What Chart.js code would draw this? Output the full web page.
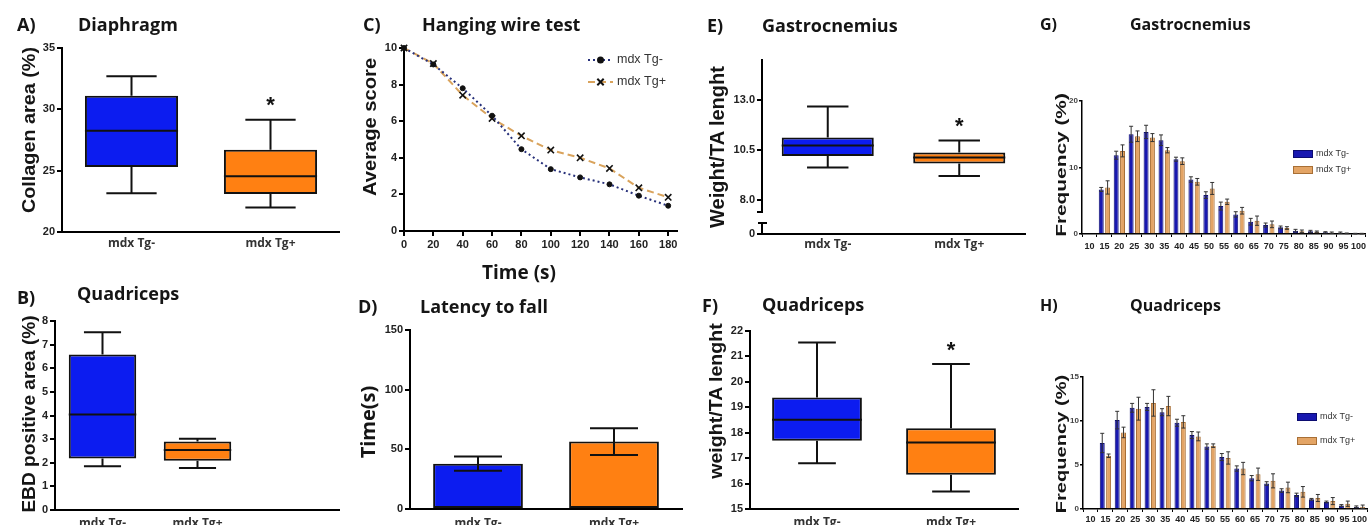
<!DOCTYPE html>
<html>
<head>
<meta charset="utf-8">
<title>mdx Tg- / mdx Tg+</title>
<script src="https://cdn.jsdelivr.net/npm/chart.js@4.4.1/dist/chart.umd.min.js"></script>
<style>
  html, body { margin: 0; padding: 0; background: #fff; }
  #page { position: relative; width: 1370px; height: 525px; overflow: hidden; }
  canvas { position: absolute; }
  .tag, .title { position: absolute; font-family: 'Open Sans', sans-serif; font-weight: bold; font-size: 18px; color: #151515; white-space: nowrap; line-height: 1; transform: translateY(-50%); }
  .small { font-size: 16px; }
  .axis-title { position: absolute; font-family: 'Liberation Sans', Arial, sans-serif; font-weight: bold; color: #151515; white-space: nowrap; line-height: 1; }
  .x-title { position: absolute; font-family: 'Open Sans', sans-serif; font-weight: bold; color: #151515; white-space: nowrap; line-height: 1; transform: translate(-50%, -50%); }
</style>
</head>
<body>
<div id="page">
  <canvas id="chartA" width="340" height="230" style="left:0px;top:30px"></canvas>
  <canvas id="chartB" width="340" height="225" style="left:0px;top:300px"></canvas>
  <canvas id="chartC" width="350" height="255" style="left:340px;top:30px"></canvas>
  <canvas id="chartD" width="350" height="225" style="left:340px;top:300px"></canvas>
  <canvas id="chartE" width="340" height="220" style="left:690px;top:40px"></canvas>
  <canvas id="chartF" width="340" height="225" style="left:690px;top:300px"></canvas>
  <canvas id="chartG" width="340" height="180" style="left:1030px;top:80px"></canvas>
  <canvas id="chartH" width="340" height="165" style="left:1030px;top:360px"></canvas>

  <!-- panel letters and titles -->
  <div class="tag" style="left:17px;top:24px">A)</div>
  <div class="title" style="left:78px;top:24px">Diaphragm</div>
  <div class="tag" style="left:17px;top:297px">B)</div>
  <div class="title" style="left:77px;top:293px">Quadriceps</div>
  <div class="tag" style="left:363px;top:24px">C)</div>
  <div class="title" style="left:422px;top:24px">Hanging wire test</div>
  <div class="tag" style="left:358px;top:306px">D)</div>
  <div class="title" style="left:420px;top:306px">Latency to fall</div>
  <div class="tag" style="left:707px;top:25px">E)</div>
  <div class="title" style="left:762px;top:25px">Gastrocnemius</div>
  <div class="tag" style="left:702px;top:305px">F)</div>
  <div class="title" style="left:762px;top:304px">Quadriceps</div>
  <div class="tag small" style="left:1040px;top:24px">G)</div>
  <div class="title small" style="left:1130px;top:24px">Gastrocnemius</div>
  <div class="tag small" style="left:1040px;top:305px">H)</div>
  <div class="title small" style="left:1130px;top:305px">Quadriceps</div>

  <!-- axis titles (rotated ones are stretched a bit like the original figure) -->
  <div class="axis-title" style="left:29px;top:130px;font-size:18px;transform:translate(-50%,-50%) rotate(-90deg) scaleX(1.1)">Collagen area (%)</div>
  <div class="axis-title" style="left:29px;top:414px;font-size:18px;transform:translate(-50%,-50%) rotate(-90deg) scaleX(1.06)">EBD positive area (%)</div>
  <div class="axis-title" style="left:370px;top:127px;font-size:18px;transform:translate(-50%,-50%) rotate(-90deg) scaleX(1.12)">Average score</div>
  <div class="x-title" style="left:519px;top:272px;font-size:19px">Time (s)</div>
  <div class="x-title" style="left:368px;top:422px;font-size:20px;transform:translate(-50%,-50%) rotate(-90deg)">Time(s)</div>
  <div class="axis-title" style="left:717px;top:147px;font-size:20px;transform:translate(-50%,-50%) rotate(-90deg)">Weight/TA lenght</div>
  <div class="axis-title" style="left:715px;top:401px;font-size:19px;transform:translate(-50%,-50%) rotate(-90deg) scaleX(1.03)">weight/TA lenght</div>
  <div class="axis-title" style="left:1060px;top:165px;font-size:15px;transform:translate(-50%,-50%) rotate(-90deg) scaleX(1.39)">Frequency (%)</div>
  <div class="axis-title" style="left:1060px;top:444px;font-size:15px;transform:translate(-50%,-50%) rotate(-90deg) scaleX(1.34)">Frequency (%)</div>
</div>

<script>
'use strict';

// the two genotypes compared in every panel
let groups = ['mdx Tg-', 'mdx Tg+'];

// A) Diaphragm - collagen area (%), box and whiskers
let diaphragmLow = [23.15, 22.0];
let diaphragmQ1 = [25.3, 23.1];
let diaphragmMedian = [28.25, 24.55];
let diaphragmQ3 = [31.1, 26.7];
let diaphragmHigh = [32.7, 29.15];
let diaphragmMarks = ['', '*'];

// B) Quadriceps - EBD positive area (%)
let ebdLow = [1.85, 1.78];
let ebdQ1 = [2.18, 2.08];
let ebdMedian = [4.04, 2.54];
let ebdQ3 = [6.58, 2.9];
let ebdHigh = [7.52, 3.02];

// C) Hanging wire test - average score over time
let wireTimes = [0, 20, 40, 60, 80, 100, 120, 140, 160, 180];
let wireTgMinus = [10, 9.1, 7.8, 6.3, 4.47, 3.38, 2.93, 2.55, 1.93, 1.38];
let wireTgPlus = [10, 9.15, 7.42, 6.15, 5.2, 4.42, 4.0, 3.42, 2.36, 1.84];
let wireTimeTicks = [0, 20, 40, 60, 80, 100, 120, 140, 160, 180];

// D) Latency to fall (s), mean +/- error
let latencyMean = [38, 56.5];
let latencyErr = [6, 11.2];

// E) Gastrocnemius - weight / TA length (broken axis)
let gastroLow = [9.63, 9.2];
let gastroQ1 = [10.2, 9.83];
let gastroMedian = [10.72, 10.12];
let gastroQ3 = [11.12, 10.38];
let gastroHigh = [12.67, 10.97];
let gastroMarks = ['', '*'];
let gastroTickValues = [6.3, 8.0, 10.5, 13.0]; // 6.3 is the floor under the break, labelled 0
let gastroTickLabels = ['0', '8.0', '10.5', '13.0'];
let gastroBreak = [6.85, 7.4];

// F) Quadriceps - weight / TA length
let quadLow = [16.8, 15.69];
let quadQ1 = [17.68, 16.35];
let quadMedian = [18.51, 17.62];
let quadQ3 = [19.38, 18.18];
let quadHigh = [21.55, 20.7];
let quadMarks = ['', '*'];

// G) and H) fibre size distribution, frequency (%)
let fibreBins = ['10', '15', '20', '25', '30', '35', '40', '45', '50', '55', '60', '65', '70', '75', '80', '85', '90', '95', '100'];
let gastroFreqMinus = [0, 6.7, 11.85, 15.0, 15.35, 14.1, 11.25, 8.2, 5.85, 4.2, 2.95, 1.85, 1.35, 1.0, 0.5, 0.4, 0.25, 0.2, 0.05];
let gastroFreqPlus = [0, 7.0, 12.5, 14.7, 14.5, 12.6, 10.95, 7.85, 6.85, 4.85, 3.5, 2.0, 1.45, 0.9, 0.4, 0.35, 0.2, 0.1, 0.05];
let gastroErrMinus = [0, 0.3, 0.6, 1.2, 1.0, 0.8, 0.3, 0.4, 0.5, 0.6, 0.4, 0.5, 0.3, 0.2, 0.2, 0.15, 0.1, 0.1, 0.05];
let gastroErrPlus = [0, 1.0, 0.9, 0.8, 0.6, 0.4, 0.5, 0.5, 0.9, 0.4, 0.5, 0.7, 0.5, 0.2, 0.2, 0.1, 0.1, 0.05, 0.05];
let quadFreqMinus = [0, 7.5, 10.1, 11.5, 11.6, 11.0, 9.8, 8.4, 7.1, 5.9, 4.6, 3.5, 2.9, 2.1, 1.6, 1.1, 0.8, 0.4, 0.25];
let quadFreqPlus = [0, 6.05, 8.7, 11.4, 12.05, 11.7, 9.9, 8.25, 7.2, 5.8, 4.6, 3.95, 3.2, 2.45, 1.95, 1.25, 0.9, 0.6, 0.25];
let quadErrMinus = [0, 1.1, 1.0, 0.5, 0.4, 0.4, 0.4, 0.4, 0.3, 0.4, 0.3, 0.3, 0.2, 0.2, 0.2, 0.1, 0.1, 0.1, 0.1];
let quadErrPlus = [0, 0.2, 0.6, 1.3, 1.5, 1.1, 0.7, 0.5, 0.2, 0.7, 0.7, 0.7, 0.8, 0.6, 0.6, 0.4, 0.4, 0.3, 0.2];


// colours and fonts
let blue = '#0c1cf0';
let orange = '#ff8012';
let histBlue = '#1818b0';
let histOrange = '#e3a465';
let ink = '#111';
let tickFont = { family: 'Liberation Sans', weight: 'bold', size: 11 };
let groupFont = { family: 'Open Sans', weight: 'bold', size: 12 };


// whiskers, median line and significance star on top of floating bars (q1..q3)
const boxWhiskers = {
  id: 'boxWhiskers',
  afterDatasetsDraw: function(chart) {
    let ds = chart.data.datasets[0];
    let meta = chart.getDatasetMeta(0);
    let yScale = chart.scales.y;
    let ctx = chart.ctx;
    ctx.save();
    ctx.strokeStyle = ink;
    ctx.lineWidth = 2;
    meta.data.forEach(function(bar, i) {
      let half = bar.width / 2;
      let cap = half * ds.capSize;
      let top = Math.min(bar.y, bar.base);
      let bottom = Math.max(bar.y, bar.base);
      let med = yScale.getPixelForValue(ds.medians[i]);
      let hi = yScale.getPixelForValue(ds.highs[i]);
      let lo = yScale.getPixelForValue(ds.lows[i]);
      ctx.beginPath();
      ctx.moveTo(bar.x - half, med); ctx.lineTo(bar.x + half, med);
      ctx.moveTo(bar.x, top); ctx.lineTo(bar.x, hi);
      ctx.moveTo(bar.x - cap, hi); ctx.lineTo(bar.x + cap, hi);
      ctx.moveTo(bar.x, bottom); ctx.lineTo(bar.x, lo);
      ctx.moveTo(bar.x - cap, lo); ctx.lineTo(bar.x + cap, lo);
      ctx.stroke();
      if (ds.marks && ds.marks[i]) {
        ctx.fillStyle = ink;
        ctx.font = 'bold 22px "Liberation Sans", Arial, sans-serif';
        ctx.textAlign = 'center';
        ctx.textBaseline = 'alphabetic';
        ctx.fillText(ds.marks[i], bar.x, hi - 20 + 0.575 * 22);
      }
    });
    ctx.restore();
  }
};

// mean +/- error bars for every bar dataset that has an errors array
const errorBars = {
  id: 'errorBars',
  afterDatasetsDraw: function(chart) {
    let yScale = chart.scales.y;
    let ctx = chart.ctx;
    chart.data.datasets.forEach(function(ds, d) {
      if (!ds.errors) return;
      let meta = chart.getDatasetMeta(d);
      ctx.save();
      ctx.strokeStyle = ds.errorColor;
      ctx.lineWidth = ds.errorWidth;
      meta.data.forEach(function(bar, i) {
        let err = ds.errors[i];
        if (!err) return;
        let v = ds.data[i];
        let hi = yScale.getPixelForValue(v + err);
        let lo = yScale.getPixelForValue(Math.max(v - err, 0));
        ctx.beginPath();
        ctx.moveTo(bar.x, lo); ctx.lineTo(bar.x, hi);
        ctx.moveTo(bar.x - ds.errorCap, hi); ctx.lineTo(bar.x + ds.errorCap, hi);
        ctx.moveTo(bar.x - ds.errorCap, lo); ctx.lineTo(bar.x + ds.errorCap, lo);
        ctx.stroke();
      });
      ctx.restore();
    });
  }
};

// gap in the y axis of panel E
const axisBreak = {
  id: 'axisBreak',
  afterDraw: function(chart) {
    let y = chart.scales.y;
    let x0 = chart.chartArea.left;
    let lower = y.getPixelForValue(gastroBreak[0]);
    let upper = y.getPixelForValue(gastroBreak[1]);
    let ctx = chart.ctx;
    ctx.save();
    ctx.fillStyle = '#fff';
    ctx.fillRect(x0 - 4, upper, 8, lower - upper);
    ctx.strokeStyle = '#000';
    ctx.lineWidth = 2;
    ctx.beginPath();
    ctx.moveTo(x0 - 5, upper); ctx.lineTo(x0 + 1, upper);
    ctx.moveTo(x0 - 4, lower); ctx.lineTo(x0 + 5, lower);
    ctx.stroke();
    ctx.restore();
  }
};

// small hand placed legend (line + marker, or filled swatch)
function makeLegend(items) {
  return {
    id: 'panelLegend',
    afterDraw: function(chart) {
      let ctx = chart.ctx;
      ctx.save();
      items.forEach(function(item) {
        let ds = chart.data.datasets[item.dataset];
        if (item.kind === 'line') {
          ctx.strokeStyle = ds.borderColor;
          ctx.lineWidth = ds.borderWidth;
          ctx.setLineDash(ds.borderDash || []);
          ctx.beginPath();
          ctx.moveTo(item.x, item.y);
          ctx.lineTo(item.x + item.w, item.y);
          ctx.stroke();
          ctx.setLineDash([]);
          ctx.fillStyle = ds.pointBackgroundColor;
          ctx.strokeStyle = ds.pointBorderColor;
          Chart.helpers.drawPoint(ctx, {
            pointStyle: ds.pointStyle, rotation: 0,
            radius: ds.pointRadius, borderWidth: ds.pointBorderWidth
          }, item.x + item.w / 2, item.y);
        } else {
          ctx.fillStyle = ds.backgroundColor;
          ctx.strokeStyle = ds.borderColor;
          ctx.lineWidth = 1;
          ctx.fillRect(item.x, item.y - 4, item.w, 8);
          ctx.strokeRect(item.x + 0.5, item.y - 3.5, item.w - 1, 7);
        }
        ctx.fillStyle = '#333';
        ctx.font = item.font;
        ctx.textAlign = 'left';
        ctx.textBaseline = 'middle';
        ctx.fillText(ds.label, item.x + item.w + item.gap, item.y);
      });
      ctx.restore();
    }
  };
}


// axis helpers
function valueAxis(min, max, step, width) {
  return {
    min: min,
    max: max,
    ticks: { stepSize: step, color: '#222', font: tickFont, padding: 2 },
    grid: { drawOnChartArea: false, drawTicks: true, tickLength: 5, color: '#000', lineWidth: 2 },
    border: { color: '#000', width: 2 },
    afterFit: function(scale) { scale.width = width; }
  };
}

function groupAxis(height, pad) {
  return {
    ticks: { color: '#333', font: groupFont, padding: pad, autoSkip: false, maxRotation: 0 },
    grid: { display: false, drawTicks: false, tickLength: 0 },
    border: { color: '#000', width: 2 },
    afterFit: function(scale) { scale.height = height; }
  };
}

function baseOptions(pad, xAxis, yAxis) {
  return {
    responsive: false,
    animation: false,
    devicePixelRatio: 1,
    layout: { padding: { top: pad.top, right: pad.right, left: 0, bottom: 0 } },
    plugins: { legend: { display: false }, tooltip: { enabled: false } },
    scales: { x: xAxis, y: yAxis }
  };
}

function boxChart(id, pad, yAxis, stats) {
  let labels = groups.slice();
  if (pad.spare) labels.push('');
  return new Chart(document.getElementById(id), {
    type: 'bar',
    data: {
      labels: labels,
      datasets: [{
        data: stats.q1.map(function(v, i) { return [v, stats.q3[i]]; }),
        backgroundColor: [blue, orange],
        borderColor: ink,
        borderWidth: 2,
        borderSkipped: false,
        barPercentage: pad.barPct,
        categoryPercentage: 1,
        lows: stats.low,
        medians: stats.median,
        highs: stats.high,
        marks: stats.marks || [],
        capSize: pad.cap
      }]
    },
    options: baseOptions(pad, groupAxis(pad.xHeight, pad.labelPad), yAxis),
    plugins: [boxWhiskers].concat(pad.extra || [])
  });
}

function histogramChart(id, pad, yMax, yStep, minus, plus, minusErr, plusErr, legendItems) {
  let yAxis = valueAxis(0, yMax, yStep, pad.yWidth);
  yAxis.ticks.font = { family: 'Liberation Sans', weight: 'bold', size: 8 };
  yAxis.ticks.color = '#444';
  yAxis.ticks.padding = 1;
  yAxis.grid.tickLength = 3;
  yAxis.grid.lineWidth = 1.5;
  yAxis.border.width = 1.5;
  let xAxis = {
    ticks: { color: '#222', font: { family: 'Liberation Sans', weight: 'bold', size: 9 }, padding: pad.labelPad, autoSkip: false, maxRotation: 0 },
    grid: { drawOnChartArea: false, drawTicks: true, tickLength: 3, color: '#000', lineWidth: 1 },
    border: { color: '#000', width: 1.5 },
    afterFit: function(scale) { scale.height = pad.xHeight; }
  };
  let common = { borderWidth: 1, barPercentage: 0.78, categoryPercentage: 0.85, errorCap: 2, errorColor: '#333', errorWidth: 1 };
  return new Chart(document.getElementById(id), {
    type: 'bar',
    data: {
      labels: fibreBins,
      datasets: [
        Object.assign({ label: 'mdx Tg-', data: minus, errors: minusErr, backgroundColor: histBlue, borderColor: '#0c0c70' }, common),
        Object.assign({ label: 'mdx Tg+', data: plus, errors: plusErr, backgroundColor: histOrange, borderColor: '#a86f35' }, common)
      ]
    },
    options: baseOptions(pad, xAxis, yAxis),
    plugins: [errorBars, makeLegend(legendItems)]
  });
}


// A) Diaphragm
boxChart('chartA',
  { top: 18, right: 0, xHeight: 28, labelPad: 4, barPct: 0.67, cap: 0.54 },
  valueAxis(20, 35, 5, 62),
  { low: diaphragmLow, q1: diaphragmQ1, median: diaphragmMedian, q3: diaphragmQ3, high: diaphragmHigh, marks: diaphragmMarks });

// B) Quadriceps EBD (third empty slot keeps the boxes to the left like the original)
boxChart('chartB',
  { top: 21, right: 0, xHeight: 15, labelPad: 6, barPct: 0.71, cap: 0.55, spare: true },
  valueAxis(0, 8, 1, 55),
  { low: ebdLow, q1: ebdQ1, median: ebdMedian, q3: ebdQ3, high: ebdHigh });

// C) Hanging wire test
let wireX = valueAxis(0, 186, 20, 0);
wireX.type = 'linear';
wireX.afterFit = function(scale) { scale.height = 54; };
wireX.afterBuildTicks = function(scale) {
  scale.ticks = wireTimeTicks.map(function(v) { return { value: v }; });
};
new Chart(document.getElementById('chartC'), {
  type: 'line',
  data: {
    datasets: [
      {
        label: 'mdx Tg-',
        data: wireTimes.map(function(t, i) { return { x: t, y: wireTgMinus[i] }; }),
        borderColor: '#27307a',
        borderWidth: 2,
        borderDash: [2, 3],
        pointStyle: 'circle',
        pointRadius: 2.5,
        pointBorderWidth: 1,
        pointBackgroundColor: ink,
        pointBorderColor: ink,
        tension: 0,
        clip: false
      },
      {
        label: 'mdx Tg+',
        data: wireTimes.map(function(t, i) { return { x: t, y: wireTgPlus[i] }; }),
        borderColor: '#d9a35c',
        borderWidth: 2,
        borderDash: [7, 4],
        pointStyle: 'crossRot',
        pointRadius: 4.5,
        pointBorderWidth: 1.6,
        pointBackgroundColor: ink,
        pointBorderColor: ink,
        tension: 0,
        clip: false
      }
    ]
  },
  options: baseOptions({ top: 18, right: 13 }, wireX, valueAxis(0, 10, 2, 64)),
  plugins: [makeLegend([
    { dataset: 0, kind: 'line', x: 248, y: 30, w: 25, gap: 4, font: '12.5px "Liberation Sans", Arial, sans-serif' },
    { dataset: 1, kind: 'line', x: 248, y: 52, w: 25, gap: 4, font: '12.5px "Liberation Sans", Arial, sans-serif' }
  ])]
});

// D) Latency to fall
new Chart(document.getElementById('chartD'), {
  type: 'bar',
  data: {
    labels: groups,
    datasets: [{
      data: latencyMean,
      errors: latencyErr,
      errorCap: 24,
      errorColor: ink,
      errorWidth: 2,
      backgroundColor: [blue, orange],
      borderColor: ink,
      borderWidth: 2,
      borderSkipped: false,
      barPercentage: 0.66,
      categoryPercentage: 1
    }]
  },
  options: baseOptions({ top: 30, right: 8 }, groupAxis(16, 7), valueAxis(0, 150, 50, 70)),
  plugins: [errorBars]
});

// E) Gastrocnemius, broken y axis
let gastroY = valueAxis(6.3, 15, 1, 72);
gastroY.afterBuildTicks = function(scale) {
  scale.ticks = gastroTickValues.map(function(v) { return { value: v }; });
};
gastroY.ticks.callback = function(value, index) { return gastroTickLabels[index]; };
boxChart('chartE',
  { top: 20, right: 5, xHeight: 26, labelPad: 3, barPct: 0.7, cap: 0.45, extra: [axisBreak] },
  gastroY,
  { low: gastroLow, q1: gastroQ1, median: gastroMedian, q3: gastroQ3, high: gastroHigh, marks: gastroMarks });

// F) Quadriceps weight
boxChart('chartF',
  { top: 31, right: 12, xHeight: 16, labelPad: 6, barPct: 0.67, cap: 0.42 },
  valueAxis(15, 22, 1, 60),
  { low: quadLow, q1: quadQ1, median: quadMedian, q3: quadQ3, high: quadHigh, marks: quadMarks });

// G) Gastrocnemius fibre distribution
histogramChart('chartG', { top: 21, right: 0, yWidth: 52, xHeight: 26, labelPad: 4 }, 20, 10,
  gastroFreqMinus, gastroFreqPlus, gastroErrMinus, gastroErrPlus, [
    { dataset: 0, kind: 'box', x: 263, y: 74, w: 20, gap: 3, font: '9px "Liberation Sans", Arial, sans-serif' },
    { dataset: 1, kind: 'box', x: 263, y: 90, w: 20, gap: 3, font: '9px "Liberation Sans", Arial, sans-serif' }
  ]);

// H) Quadriceps fibre distribution
histogramChart('chartH', { top: 17, right: 3, yWidth: 53, xHeight: 16, labelPad: 2 }, 15, 5,
  quadFreqMinus, quadFreqPlus, quadErrMinus, quadErrPlus, [
    { dataset: 0, kind: 'box', x: 267, y: 57, w: 20, gap: 3, font: '9px "Liberation Sans", Arial, sans-serif' },
    { dataset: 1, kind: 'box', x: 267, y: 81, w: 20, gap: 3, font: '9px "Liberation Sans", Arial, sans-serif' }
  ]);
</script>
</body>
</html>
